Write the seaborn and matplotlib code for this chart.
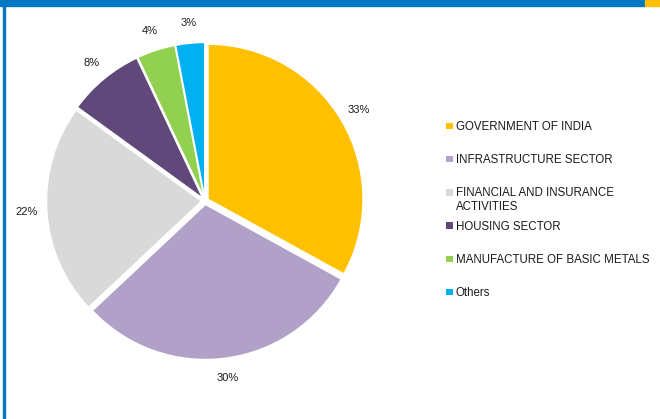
import matplotlib
matplotlib.use('Agg')
import matplotlib.pyplot as plt
import seaborn as sns
from matplotlib.patches import Rectangle

# Data
sectors = ['GOVERNMENT OF INDIA', 'INFRASTRUCTURE SECTOR', 'FINANCIAL AND INSURANCE\nACTIVITIES',
           'HOUSING SECTOR', 'MANUFACTURE OF BASIC METALS', 'Others']
shares = [33, 30, 22, 8, 4, 3]
colors = ['#FFC000', '#B1A0C7', '#D9D9D9', '#60497A', '#92D050', '#00B0F0']

sns.set_theme(style='white')
plt.rcParams['font.family'] = ['Liberation Sans', 'DejaVu Sans']

fig = plt.figure(figsize=(6.6, 4.19), dpi=100)
ax = fig.add_axes([0, 0, 1, 1])

# pie drawn in pixel-like data units (explode is in data units here)
pal = sns.color_palette(colors)
wedges, texts, autotexts = ax.pie(shares, colors=pal, startangle=90, counterclock=False,
                                  center=(205, 218), radius=155, explode=[3.5] * len(shares),
                                  autopct='%1.0f%%', pctdistance=1.13,
                                  wedgeprops=dict(edgecolor='white', linewidth=1.0),
                                  textprops=dict(fontsize=8, color='#1a1a1a'))
ax.set_xlim(0, 660)
ax.set_ylim(0, 419)
ax.set_aspect('equal')
ax.axis('off')

# header strip and frame border
ax.add_patch(Rectangle((0, 413), 645, 6, color='#0078C1', clip_on=False))
ax.add_patch(Rectangle((645, 413), 15, 6, color='#FFC000', clip_on=False))
ax.add_patch(Rectangle((3, 0), 1.6, 413, color='#0078C1', clip_on=False))

# legend, excel style: one fixed slot per entry, square next to the first line
top = 419 - 126
step = 33.2
line_h = 8.3 * 1.15 * 100 / 72
for i, (lab, c) in enumerate(zip(sectors, pal)):
    yc = top - i * step
    extra = lab.count('\n') * line_h
    ax.add_patch(Rectangle((446, yc - 3.3), 6.6, 6.6, color=c, lw=0))
    ax.text(455.5, yc - 4 - extra, lab, fontsize=8.3, color='#1a1a1a', va='baseline', ha='left',
            linespacing=1.15)

plt.savefig('out.png', dpi=100)
